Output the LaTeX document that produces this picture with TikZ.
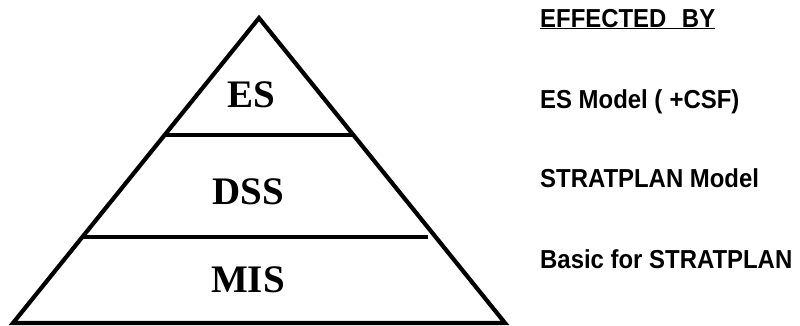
\documentclass[tikz,border=0pt]{standalone}
\usepackage{fontspec}
\setmainfont{Liberation Serif}
\setsansfont{Liberation Sans}
\newcommand{\narrowtext}[1]{\scalebox{0.92}[1]{#1}}
\begin{document}
\begin{tikzpicture}[x=1pt,y=-1pt,
  edge/.style={line width=4.2pt,line join=miter},
  level/.style={font=\fontsize{39}{39}\selectfont\bfseries,anchor=base},
  note/.style={font=\sffamily\fontsize{26}{26}\selectfont\bfseries,anchor=base west,inner sep=0pt}]
\useasboundingbox (0,0) rectangle (800,325);
\coordinate (apex) at (259,18);
\coordinate (bl) at (13,323);
\coordinate (br) at (505,323);
\draw[edge] (apex) -- (br) -- (bl) -- cycle;
\coordinate (l1a) at (166,135);
\coordinate (l1b) at (352,135);
\coordinate (l2a) at (84,237);
\coordinate (l2b) at (428,237);
\draw[edge] (l1a) -- (l1b);
\draw[edge] (l2a) -- (l2b);
\node[level] (es) at (251,107) {ES};
\node[level] (dss) at (248,204) {DSS};
\node[level] (mis) at (248,292) {MIS};
\node[note] (hdr) at (540,27) {\narrowtext{\underline{EFFECTED\hspace{0.65em}BY}}};
\node[note] (n1) at (540,108) {\narrowtext{ES Model (\hspace{0.3em}+CSF)}};
\node[note] (n2) at (540,187) {\narrowtext{STRATPLAN Model}};
\node[note] (n3) at (540,268) {\narrowtext{Basic for STRATPLAN}};
\end{tikzpicture}
\end{document}
